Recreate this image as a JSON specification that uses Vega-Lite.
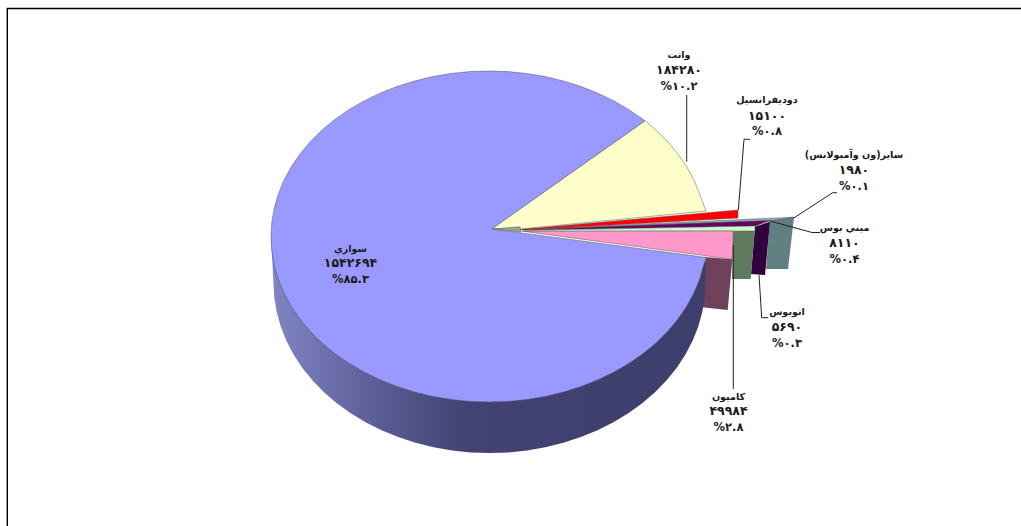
{"$schema":"https://vega.github.io/schema/vega-lite/v6.json","width":1021,"height":526,"padding":0,"autosize":"none","background":"white","config":{"view":{"stroke":null}},
"resolve":{"scale":{"fill":"independent"}},
"datasets":{
"frame":[{"i":1,"x":7.3,"y":526},{"i":2,"x":7.3,"y":8.5},{"i":3,"x":1021,"y":8.5}],
"walls":[
{"s":"w_teal","i":1,"x":770,"y":220},{"s":"w_teal","i":2,"x":794,"y":217.3},{"s":"w_teal","i":3,"x":788,"y":269},{"s":"w_teal","i":4,"x":766,"y":269},
{"s":"w_purple","i":1,"x":755,"y":226.7},{"s":"w_purple","i":2,"x":770,"y":221.7},{"s":"w_purple","i":3,"x":765,"y":275},{"s":"w_purple","i":4,"x":751,"y":274},
{"s":"w_green","i":1,"x":733,"y":231},{"s":"w_green","i":2,"x":755,"y":227},{"s":"w_green","i":3,"x":750.7,"y":279},{"s":"w_green","i":4,"x":732,"y":279},
{"s":"w_pink","i":1,"x":704,"y":257},{"s":"w_pink","i":2,"x":732.3,"y":259.3},{"s":"w_pink","i":3,"x":727.7,"y":310},{"s":"w_pink","i":4,"x":702,"y":307.3}],
"mainWall":[
{"i":170,"x":271,"y":236.5},{"i":180,"x":273.5,"y":283},{"i":185,"x":274.3,"y":297.8},{"i":190,"x":276.8,"y":312.5},{"i":195,"x":280.9,"y":327},{"i":200,"x":286.5,"y":341.1},{"i":205,"x":293.7,"y":354.8},{"i":210,"x":302.4,"y":368},{"i":215,"x":312.6,"y":380.5},{"i":220,"x":324,"y":392.3},{"i":225,"x":336.8,"y":403.2},{"i":230,"x":350.7,"y":413.2},{"i":235,"x":365.6,"y":422.3},{"i":240,"x":381.5,"y":430.2},{"i":245,"x":398.2,"y":437.1},{"i":250,"x":415.6,"y":442.7},{"i":255,"x":433.6,"y":447.2},{"i":260,"x":452,"y":450.4},{"i":265,"x":470.7,"y":452.4},{"i":270,"x":489.5,"y":453},{"i":275,"x":508.3,"y":452.4},{"i":280,"x":527,"y":450.4},{"i":285,"x":545.4,"y":447.2},{"i":290,"x":563.4,"y":442.7},{"i":295,"x":580.8,"y":437.1},{"i":300,"x":597.5,"y":430.2},{"i":305,"x":613.4,"y":422.3},{"i":310,"x":628.3,"y":413.2},{"i":315,"x":642.2,"y":403.2},{"i":320,"x":655,"y":392.3},{"i":325,"x":666.4,"y":380.5},{"i":330,"x":676.6,"y":368},{"i":335,"x":685.3,"y":354.8},{"i":340,"x":692.5,"y":341.1},{"i":345,"x":698.1,"y":327},{"i":350,"x":702.2,"y":312.5},{"i":355,"x":704.7,"y":297.8},{"i":360,"x":706,"y":258}],
"tops":[
{"s":"وانت","i":1,"x":491.7,"y":228.8},{"s":"وانت","i":2,"x":645,"y":120.7},{"s":"وانت","i":3,"x":656,"y":130.1},{"s":"وانت","i":4,"x":667.6,"y":141.6},{"s":"وانت","i":5,"x":677.8,"y":153.75},{"s":"وانت","i":6,"x":686.6,"y":166.6},{"s":"وانت","i":7,"x":693.9,"y":179.9},{"s":"وانت","i":8,"x":699.6,"y":193.7},{"s":"وانت","i":9,"x":703.7,"y":205},{"s":"وانت","i":10,"x":706,"y":211},{"s":"وانت","i":11,"x":520,"y":229},
{"s":"hub","i":1,"x":491.7,"y":229},{"s":"hub","i":2,"x":520,"y":226.8},{"s":"hub","i":3,"x":521,"y":232},
{"s":"سایر","i":1,"x":522,"y":229.5},{"s":"سایر","i":2,"x":794,"y":217.2},{"s":"سایر","i":3,"x":770,"y":221},
{"s":"ميني بوس","i":1,"x":522,"y":229.8},{"s":"ميني بوس","i":2,"x":770,"y":220.5},{"s":"ميني بوس","i":3,"x":755,"y":226.3},{"s":"ميني بوس","i":4,"x":530,"y":230},
{"s":"اتوبوس","i":1,"x":525,"y":230.5},{"s":"اتوبوس","i":2,"x":755,"y":226},{"s":"اتوبوس","i":3,"x":755,"y":231},{"s":"اتوبوس","i":4,"x":525,"y":231.5},
{"s":"دوديفرانسيل","i":1,"x":520,"y":229.5},{"s":"دوديفرانسيل","i":2,"x":738,"y":210},{"s":"دوديفرانسيل","i":3,"x":738,"y":218},{"s":"دوديفرانسيل","i":4,"x":525,"y":229.7},
{"s":"كاميون","i":1,"x":522,"y":231.2},{"s":"كاميون","i":2,"x":733.3,"y":231},{"s":"كاميون","i":3,"x":732.3,"y":259.3},
{"s":"سواري","i":1,"x":491.7,"y":229},{"s":"سواري","i":45,"x":645,"y":120.7},{"s":"سواري","i":50,"x":629.1,"y":109.7},{"s":"سواري","i":55,"x":614,"y":100.9},{"s":"سواري","i":60,"x":598,"y":93.2},{"s":"سواري","i":65,"x":581.1,"y":86.5},{"s":"سواري","i":70,"x":563.6,"y":81},{"s":"سواري","i":75,"x":545.4,"y":76.6},{"s":"سواري","i":80,"x":526.8,"y":73.5},{"s":"سواري","i":85,"x":508,"y":71.6},{"s":"سواري","i":90,"x":489,"y":71},{"s":"سواري","i":95,"x":470,"y":71.6},{"s":"سواري","i":100,"x":451.2,"y":73.5},{"s":"سواري","i":105,"x":432.6,"y":76.6},{"s":"سواري","i":110,"x":414.4,"y":81},{"s":"سواري","i":115,"x":396.9,"y":86.5},{"s":"سواري","i":120,"x":380,"y":93.2},{"s":"سواري","i":125,"x":364,"y":100.9},{"s":"سواري","i":130,"x":348.9,"y":109.7},{"s":"سواري","i":135,"x":334.8,"y":119.5},{"s":"سواري","i":140,"x":322,"y":130.1},{"s":"سواري","i":145,"x":310.4,"y":141.6},{"s":"سواري","i":150,"x":300.2,"y":153.75},{"s":"سواري","i":155,"x":291.4,"y":166.6},{"s":"سواري","i":160,"x":284.1,"y":179.9},{"s":"سواري","i":165,"x":278.4,"y":193.7},{"s":"سواري","i":170,"x":274.3,"y":207.8},{"s":"سواري","i":175,"x":271.8,"y":222.1},{"s":"سواري","i":180,"x":271,"y":236.5},{"s":"سواري","i":185,"x":271.8,"y":250.9},{"s":"سواري","i":190,"x":274.3,"y":265.2},{"s":"سواري","i":195,"x":278.4,"y":279.3},{"s":"سواري","i":200,"x":284.1,"y":293.1},{"s":"سواري","i":205,"x":291.4,"y":306.4},{"s":"سواري","i":210,"x":300.2,"y":319.25},{"s":"سواري","i":215,"x":310.4,"y":331.4},{"s":"سواري","i":220,"x":322,"y":342.9},{"s":"سواري","i":225,"x":334.8,"y":353.5},{"s":"سواري","i":230,"x":348.9,"y":363.3},{"s":"سواري","i":235,"x":364,"y":372.1},{"s":"سواري","i":240,"x":380,"y":379.8},{"s":"سواري","i":245,"x":396.9,"y":386.5},{"s":"سواري","i":250,"x":414.4,"y":392},{"s":"سواري","i":255,"x":432.6,"y":396.4},{"s":"سواري","i":260,"x":451.2,"y":399.5},{"s":"سواري","i":265,"x":470,"y":401.4},{"s":"سواري","i":270,"x":489,"y":402},{"s":"سواري","i":275,"x":508,"y":401.4},{"s":"سواري","i":280,"x":526.8,"y":399.5},{"s":"سواري","i":285,"x":545.4,"y":396.4},{"s":"سواري","i":290,"x":563.6,"y":392},{"s":"سواري","i":295,"x":581.1,"y":386.5},{"s":"سواري","i":300,"x":598,"y":379.8},{"s":"سواري","i":305,"x":614,"y":372.1},{"s":"سواري","i":310,"x":629.1,"y":363.3},{"s":"سواري","i":315,"x":643.2,"y":353.5},{"s":"سواري","i":320,"x":656,"y":342.9},{"s":"سواري","i":325,"x":667.6,"y":331.4},{"s":"سواري","i":330,"x":677.8,"y":319.25},{"s":"سواري","i":335,"x":686.6,"y":306.4},{"s":"سواري","i":340,"x":693.9,"y":293.1},{"s":"سواري","i":345,"x":699.6,"y":279.3},{"s":"سواري","i":350,"x":703.7,"y":265.2},{"s":"سواري","i":353,"x":706.5,"y":257.5}],
"leaders":[
{"s":"a","i":1,"x":686.7,"y":95},{"s":"a","i":2,"x":686.7,"y":161.7},
{"s":"b","i":1,"x":738.3,"y":210},{"s":"b","i":2,"x":744,"y":139.3},{"s":"b","i":3,"x":750,"y":139.3},
{"s":"c","i":1,"x":793.3,"y":218.3},{"s":"c","i":2,"x":832.7,"y":192.7},{"s":"c","i":3,"x":837,"y":192.7},
{"s":"d","i":1,"x":770,"y":221},{"s":"d","i":2,"x":812,"y":232.5},{"s":"d","i":3,"x":820,"y":232.5},
{"s":"e","i":1,"x":759,"y":275},{"s":"e","i":2,"x":761.7,"y":317.7},{"s":"e","i":3,"x":768,"y":317.7},
{"s":"f","i":1,"x":733.3,"y":245},{"s":"f","i":2,"x":733.3,"y":389}],
"labels":[
{"slice":"وانت","value":184280,"pct":10.2,"valueText":"۱۸۴۲۸۰","pctText":"%۱۰.۲","x":679,"y":55,"vy":70,"py":87},
{"slice":"دوديفرانسيل","value":15100,"pct":0.8,"valueText":"۱۵۱۰۰","pctText":"%۰.۸","x":767,"y":100,"vy":115.7,"py":131.7},
{"slice":"سایر(ون وآمبولانس)","value":1980,"pct":0.1,"valueText":"۱۹۸۰","pctText":"%۰.۱","x":854,"y":155,"vy":170,"py":186.7},
{"slice":"ميني بوس","value":8110,"pct":0.4,"valueText":"۸۱۱۰","pctText":"%۰.۴","x":844.5,"y":228,"vy":243,"py":260},
{"slice":"اتوبوس","value":5690,"pct":0.3,"valueText":"۵۶۹۰","pctText":"%۰.۳","x":787,"y":312,"vy":327,"py":344},
{"slice":"كاميون","value":49984,"pct":2.8,"valueText":"۴۹۹۸۴","pctText":"%۲.۸","x":728.5,"y":397,"vy":411,"py":428},
{"slice":"سواري","value":1542694,"pct":85.3,"valueText":"۱۵۴۲۶۹۴","pctText":"%۸۵.۳","x":350.5,"y":249,"vy":263,"py":280}]
},
"encoding":{
"x":{"field":"x","type":"quantitative","axis":null,"scale":{"domain":[0,1021],"nice":false,"zero":false}},
"y":{"field":"y","type":"quantitative","axis":null,"scale":{"domain":[526,0],"nice":false,"zero":false}}
},
"layer":[
{"data":{"name":"frame"},"mark":{"type":"line","stroke":"#000000","strokeWidth":1.4},"encoding":{"order":{"field":"i","type":"quantitative"}}},
{"data":{"name":"walls"},"mark":{"type":"line","interpolate":"linear-closed","strokeWidth":0},"encoding":{"order":{"field":"i","type":"quantitative"},"detail":{"field":"s"},"fill":{"field":"s","type":"nominal","legend":null,"scale":{"domain":["w_teal","w_purple","w_green","w_pink"],"range":["#5f7f80","#33003f","#5d7a5d","#70415a"]}}}},
{"data":{"name":"mainWall"},"mark":{"type":"line","interpolate":"linear-closed","strokeWidth":0,"fill":{"gradient":"linear","x1":0,"y1":0,"x2":1,"y2":0,"stops":[{"offset":0,"color":"#8185c4"},{"offset":0.25,"color":"#5a5c96"},{"offset":0.45,"color":"#424372"},{"offset":1,"color":"#3d3e6c"}]}},"encoding":{"order":{"field":"i","type":"quantitative"}}},
{"data":{"name":"tops"},"mark":{"type":"line","interpolate":"linear-closed","stroke":"#555555","strokeWidth":0.5},"encoding":{"order":{"field":"i","type":"quantitative"},"detail":{"field":"s"},"fill":{"field":"s","type":"nominal","legend":null,"scale":{"domain":["وانت","hub","سایر","ميني بوس","اتوبوس","دوديفرانسيل","كاميون","سواري"],"range":["#ffffcc","#9aa08e","#8fb0b0","#660066","#ccffcc","#ff0000","#ff99cc","#9999ff"]}}}},
{"data":{"name":"leaders"},"mark":{"type":"line","stroke":"#222222","strokeWidth":1},"encoding":{"order":{"field":"i","type":"quantitative"},"detail":{"field":"s"}}},
{"data":{"name":"labels"},"mark":{"type":"text","font":"DejaVu Sans","fontWeight":"bold","fontSize":9.6,"align":"center","baseline":"middle","color":"#1a1a1a"},"encoding":{"text":{"field":"slice"}}},
{"data":{"name":"labels"},"mark":{"type":"text","font":"DejaVu Sans","fontWeight":"bold","fontSize":12.5,"align":"center","baseline":"middle","color":"#1a1a1a"},"encoding":{"text":{"field":"valueText"},"y":{"field":"vy","type":"quantitative","axis":null,"scale":{"domain":[526,0],"nice":false,"zero":false}}}},
{"data":{"name":"labels"},"mark":{"type":"text","font":"DejaVu Sans","fontWeight":"bold","fontSize":11.5,"align":"center","baseline":"middle","color":"#1a1a1a"},"encoding":{"text":{"field":"pctText"},"y":{"field":"py","type":"quantitative","axis":null,"scale":{"domain":[526,0],"nice":false,"zero":false}}}}
]}
